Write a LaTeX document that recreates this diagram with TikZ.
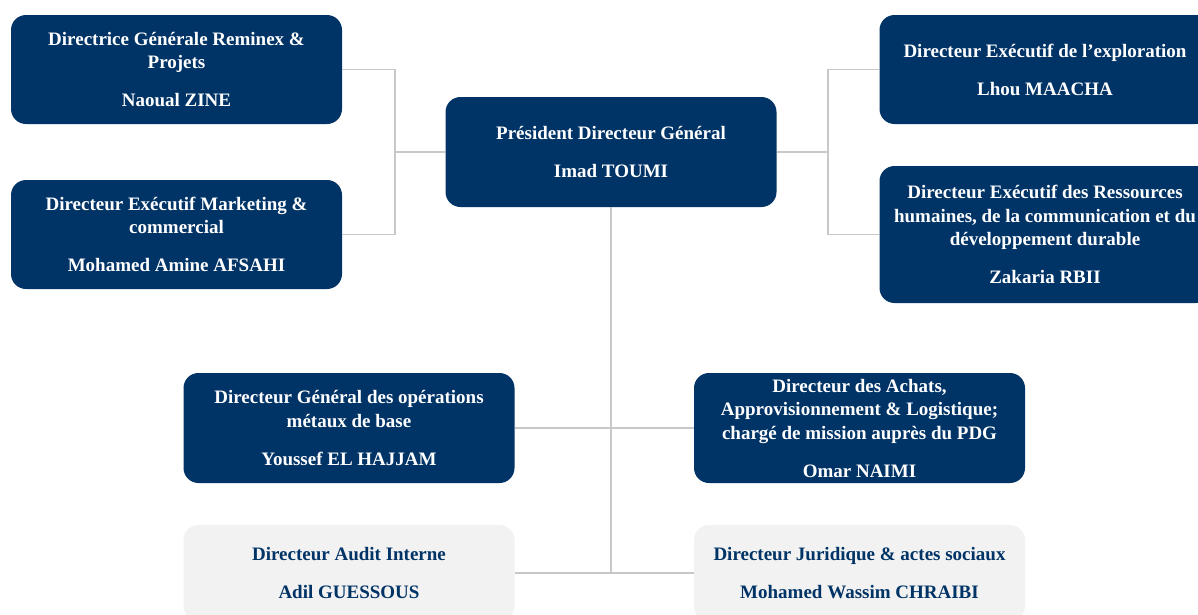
\documentclass[tikz,border=0pt]{standalone}
\usepackage{fontspec}
\setmainfont{Liberation Serif}
\definecolor{navy}{RGB}{0,51,102}
\definecolor{lightbox}{RGB}{242,242,242}
\definecolor{connc}{RGB}{200,200,200}
\begin{document}
\begin{tikzpicture}[x=1pt,y=-1pt,
  box/.style={rounded corners=15pt, minimum width=331pt, minimum height=110pt,
    align=center, inner sep=0pt, font=\fontsize{19}{23.5}\selectfont\bfseries},
  darkbox/.style={box, fill=navy, text=white},
  greybox/.style={box, fill=lightbox, text=navy},
  conn/.style={draw=connc, line width=1.4pt}]
\useasboundingbox (0,0) rectangle (1198,614);
% connectors first
\coordinate (lj) at (395,152);
\coordinate (rj) at (828,152);
\coordinate (bj2) at (611,573);
\node[darkbox, minimum height=109pt] (tl) at (176.5,69.5) {Directrice Générale Reminex \&\\Projets\\[14.5pt]Naoual ZINE};
\node[darkbox, minimum height=109pt] (ml) at (176.5,234.5) {Directeur Exécutif Marketing \&\\commercial\\[14.5pt]Mohamed Amine AFSAHI};
\node[darkbox] (ceo) at (611,152) {Président Directeur Général\\[14.5pt]Imad TOUMI};
\node[darkbox, minimum height=109pt] (tr) at (1045,69.5) {Directeur Exécutif de l’exploration\\[14.5pt]Lhou MAACHA};
\node[darkbox, minimum height=137pt] (r2) at (1045,234.5) {Directeur Exécutif des Ressources\\humaines, de la communication et du\\développement durable\\[14.5pt]Zakaria RBII};
\node[darkbox] (bl1) at (349,428) {Directeur Général des opérations\\métaux de base\\[14.5pt]Youssef EL HAJJAM};
\node[darkbox] (br1) at (859.5,428) {Directeur des Achats,\\Approvisionnement \& Logistique;\\chargé de mission auprès du PDG\\[14.5pt]Omar NAIMI};
\node[greybox, minimum height=96pt] (bl2) at (349,573) {Directeur Audit Interne\\[14.5pt]Adil GUESSOUS};
\node[greybox, minimum height=96pt] (br2) at (859.5,573) {Directeur Juridique \& actes sociaux\\[14.5pt]Mohamed Wassim CHRAIBI};
\draw[conn] (tl.east) -| (lj);
\draw[conn] (ml.east) -| (lj);
\draw[conn] (ceo.west) -- (lj);
\draw[conn] (tr.west) -| (rj);
\draw[conn] (r2.west) -| (rj);
\draw[conn] (ceo.east) -- (rj);
\draw[conn] (ceo.south) -- (bj2);
\draw[conn] (bl1.east) -- (br1.west);
\draw[conn] (bl2.east) -- (br2.west);
\end{tikzpicture}
\end{document}
